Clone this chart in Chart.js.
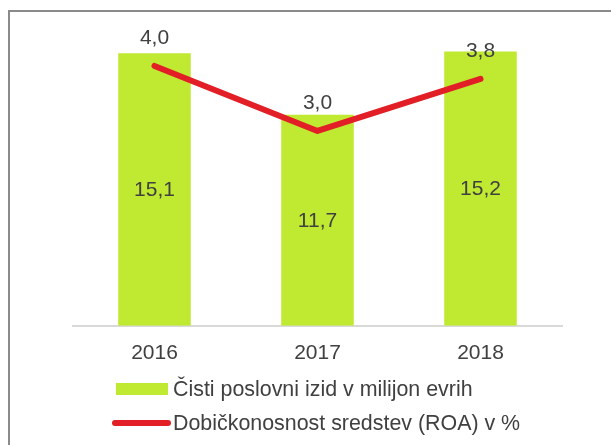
<!DOCTYPE html>
<html>
<head>
<meta charset="utf-8">
<script src="https://cdn.jsdelivr.net/npm/chart.js@4"></script>
<style>
  body { margin: 0; background: #fff; }
  #wrap { position: relative; width: 611px; height: 445px; overflow: hidden; }
  #frame { position: absolute; left: 8px; top: 10px; width: 700px; height: 500px; border: 2px solid #8a8a8a; }
  #chart { position: absolute; left: 0; top: 0; }
</style>
</head>
<body>
<div id="wrap">
  <div id="frame"></div>
  <canvas id="chart" width="611" height="445"></canvas>
</div>
<script>
// Podatki
const years = ['2016', '2017', '2018'];
const izid = [15.1, 11.7, 15.2];      // Čisti poslovni izid v milijon evrih
const roa = [4.0, 3.0, 3.8];          // ROA v %

const labelIzid = 'Čisti poslovni izid v milijon evrih';
const labelRoa = 'Dobičkonosnost sredstev (ROA) v %';

const green = '#c0e932';
const red = '#e21f26';
const textColor = '#404040';
const fontFamily = "'Liberation Sans', Arial, sans-serif";

Chart.defaults.font.family = fontFamily;
Chart.defaults.color = textColor;

function fmt(v) {
    return v.toFixed(1).replace('.', ',');
}

// Oznake vrednosti na stolpcih in na črti
const valueLabels = {
    id: 'valueLabels',
    afterDatasetsDraw(chart) {
        const ctx = chart.ctx;
        ctx.save();
        ctx.font = '21px ' + fontFamily;
        ctx.fillStyle = textColor;
        ctx.textAlign = 'center';
        ctx.textBaseline = 'middle';
        chart.data.datasets.forEach((ds, i) => {
            const meta = chart.getDatasetMeta(i);
            meta.data.forEach((el, j) => {
                if (ds.type === 'line') {
                    ctx.fillText(fmt(ds.data[j]), el.x, el.y - 28);
                } else {
                    ctx.fillText(fmt(ds.data[j]), el.x, (el.y + el.base) / 2 + 1);
                }
            });
        });
        ctx.restore();
    }
};

// Legenda (levo poravnana, dve vrstici)
const legendRows = {
    id: 'legendRows',
    afterDraw(chart) {
        const ctx = chart.ctx;
        const bar = chart.data.datasets[1];
        const line = chart.data.datasets[0];
        ctx.save();
        ctx.font = '21.4px ' + fontFamily;
        ctx.textAlign = 'left';
        ctx.textBaseline = 'middle';

        // vrstica 1: stolpec
        ctx.fillStyle = bar.backgroundColor;
        ctx.fillRect(116, 383, 52, 12);
        ctx.fillStyle = textColor;
        ctx.fillText(bar.label, 173, 390);

        // vrstica 2: črta
        ctx.strokeStyle = line.borderColor;
        ctx.lineWidth = 6;
        ctx.lineCap = 'round';
        ctx.beginPath();
        ctx.moveTo(115, 423);
        ctx.lineTo(168, 423);
        ctx.stroke();
        ctx.fillText(line.label, 173, 424);
        ctx.restore();
    }
};

const ctx = document.getElementById('chart').getContext('2d');
new Chart(ctx, {
    type: 'bar',
    data: {
        labels: years,
        datasets: [
            {
                type: 'line',
                label: labelRoa,
                data: roa,
                yAxisID: 'y1',
                borderColor: red,
                borderWidth: 6,
                borderCapStyle: 'round',
                borderJoinStyle: 'round',
                pointRadius: 0,
                tension: 0,
                order: 0
            },
            {
                label: labelIzid,
                data: izid,
                yAxisID: 'y',
                backgroundColor: green,
                categoryPercentage: 1,
                barPercentage: 0.445,
                order: 1
            }
        ]
    },
    options: {
        responsive: false,
        animation: false,
        layout: {
            padding: { left: 73, right: 49, top: 1, bottom: 64 }
        },
        plugins: {
            legend: { display: false },
            tooltip: { enabled: false }
        },
        scales: {
            x: {
                grid: { display: false, drawTicks: false },
                border: { color: '#d9d9d9', width: 2 },
                ticks: {
                    color: textColor,
                    font: { size: 21 },
                    padding: 15
                }
            },
            y: { display: false, min: 0, max: 18 },
            y1: { display: false, min: 0, max: 5, position: 'right' }
        }
    },
    plugins: [valueLabels, legendRows]
});
</script>
</body>
</html>
